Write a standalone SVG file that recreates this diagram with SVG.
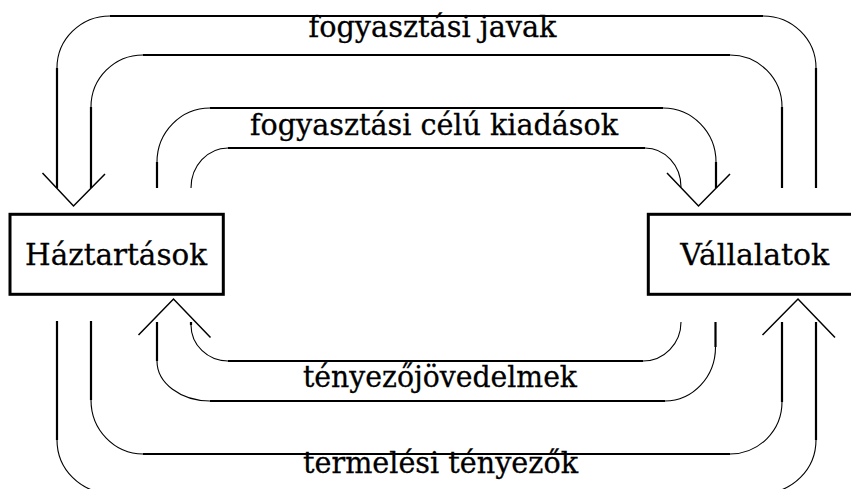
<svg xmlns="http://www.w3.org/2000/svg" width="851" height="489" viewBox="0 0 851 489">
<style>
.s{stroke:#000;stroke-width:2.2;fill:none;stroke-linecap:butt}
.a{stroke:#000;stroke-width:1.1;fill:none}
.h{stroke:#000;stroke-width:1.5;fill:none}
.box{stroke:#000;stroke-width:3;fill:#fff}
.t{font-family:"DejaVu Serif","Liberation Serif",serif;font-size:30px;fill:#000;stroke:#000;stroke-width:0.3;text-anchor:middle}
</style>
<rect width="851" height="489" fill="#fff"/>
<g id="connectors">
  <g id="fogyasztasi-javak">
    <path class="s" d="M816,188V68M763,16H110M57,68V188M782,188V107M730,55H143M91,107V188"/>
    <path class="a" d="M816,68A53,52 0 0 0 763,16M110,16A53,52 0 0 0 57,68M782,107A52,52 0 0 0 730,55M143,55A52,52 0 0 0 91,107"/>
    <polyline class="h" points="42.5,173 73.5,206 105,174"/>
    <text class="t" x="432.5" y="36.7" textLength="248" lengthAdjust="spacingAndGlyphs">fogyasztási javak</text>
  </g>
  <g id="fogyasztasi-celu-kiadasok">
    <path class="s" d="M157,188V162M210,108H663M716,162V188M228,148H645"/>
    <path class="a" d="M157,162A53,54 0 0 1 210,108M663,108A53,54 0 0 1 716,162M191,188A37,40 0 0 1 228,148M645,148A36,39 0 0 1 681,187"/>
    <polyline class="h" points="667,173 698.5,206 730,174"/>
    <text class="t" x="434" y="135" textLength="368" lengthAdjust="spacingAndGlyphs">fogyasztási célú kiadások</text>
  </g>
  <g id="tenyezojovedelmek">
    <path class="s" d="M715.5,322V347M665,401H210M157,361V322M643,361H228M191,322V325"/>
    <path class="a" d="M715.5,347A50.5,54 0 0 1 665,401M210,401A53,40 0 0 1 157,361M681,322A38,39 0 0 1 643,361M228,361A37,36 0 0 1 191,325"/>
    <polyline class="h" points="138.5,335 173.5,299 210.5,337.5"/>
    <text class="t" x="440" y="386.7" textLength="274" lengthAdjust="spacingAndGlyphs">tényezőjövedelmek</text>
  </g>
  <g id="termelesi-tenyezok">
    <path class="s" d="M57,321V440M816,440V322M91,321V400M143,454H730M782,402V322"/>
    <path class="a" d="M57,440A53,53 0 0 0 110,493M763,493A53,53 0 0 0 816,440M91,400A52,54 0 0 0 143,454M730,454A52,52 0 0 0 782,402"/>
    <polyline class="h" points="762.5,335 798,299 835,337.5"/>
    <text class="t" x="440.5" y="473.3" textLength="275" lengthAdjust="spacingAndGlyphs">termelési tényezők</text>
  </g>
</g>
<g id="haztartasok">
  <rect class="box" x="10" y="214.3" width="213.3" height="80"/>
  <text class="t" x="116" y="265" textLength="182" lengthAdjust="spacingAndGlyphs">Háztartások</text>
</g>
<g id="vallalatok">
  <rect class="box" x="648.3" y="214.3" width="220" height="80"/>
  <text class="t" x="754.7" y="265" textLength="149" lengthAdjust="spacingAndGlyphs">Vállalatok</text>
</g>
</svg>
